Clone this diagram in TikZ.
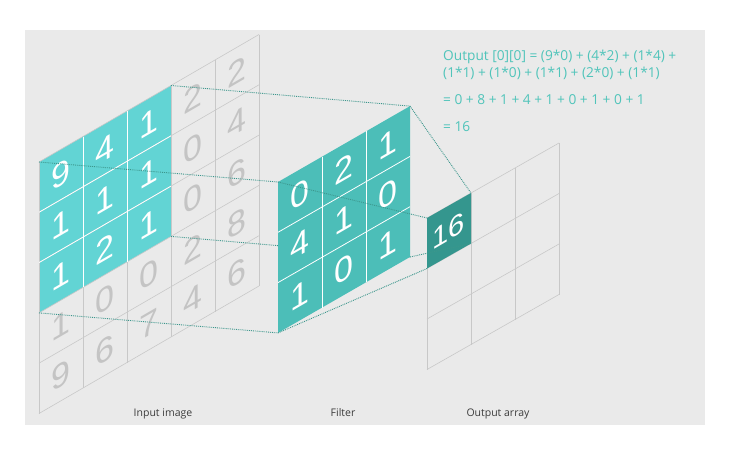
\documentclass[tikz,border=0pt]{standalone}
\usepackage{fontspec}
\setmainfont{Open Sans}
\newfontfamily\digitfont{Liberation Sans}
\definecolor{panel}{RGB}{234,234,234}
\definecolor{inteal}{RGB}{98,212,212}
\definecolor{filteal}{RGB}{76,190,184}
\definecolor{outteal}{RGB}{52,150,142}
\definecolor{txteal}{RGB}{80,196,186}
\definecolor{dotteal}{RGB}{60,150,140}
\definecolor{gridgray}{RGB}{200,200,200}
\definecolor{diggray}{RGB}{196,196,196}
\definecolor{lblgray}{RGB}{60,60,60}
\tikzset{
  gridline/.style={draw=gridgray, line width=0.6pt},
  whiteline/.style={draw=white, line width=0.8pt},
  dig/.style={font=\digitfont\fontsize{34}{34}\selectfont, yslant=0.58, transform shape, inner sep=0pt},
  dotline/.style={draw=dotteal, densely dotted, line width=0.9pt},
  eqtext/.style={font=\fontsize{13.7}{14}\selectfont, text=txteal, anchor=base west, inner sep=0pt},
  lbl/.style={font=\fontsize{10.5}{12}\selectfont, text=lblgray, anchor=base, inner sep=0pt}
}
\begin{document}
\begin{tikzpicture}
\useasboundingbox (0,0) rectangle (732pt,-448pt);
\fill[panel] (25pt,-30pt) rectangle (705pt,-425pt);
% input image
\begin{scope}[shift={(39pt,-162pt)}, x={(44pt,25.5pt)}, y={(0pt,-50.3pt)}]
  \fill[inteal] (0,0) -- (3,0) -- (3,3) -- (0,3) -- cycle;
  \foreach \i in {0,...,5} {\draw[gridline] (\i,0) -- (\i,5); \draw[gridline] (0,\i) -- (5,\i);}
  \foreach \i in {1,2} {\draw[whiteline] (\i,0) -- (\i,3); \draw[whiteline] (0,\i) -- (3,\i);}
  \foreach \c/\r/\v in {0/0/9,1/0/4,2/0/1,0/1/1,1/1/1,2/1/1,0/2/1,1/2/2,2/2/1}
    \node[dig, text=white] at (\c+0.5,\r+0.5) {\v};
  \foreach \c/\r/\v in {3/0/2,4/0/2,3/1/0,4/1/4,3/2/0,4/2/6,0/3/1,1/3/0,2/3/0,3/3/2,4/3/8,0/4/9,1/4/6,2/4/7,3/4/4,4/4/6}
    \node[dig, text=diggray] at (\c+0.5,\r+0.5) {\v};
  \coordinate (itl) at (0,0); \coordinate (itr) at (3,0);
  \coordinate (ibl) at (0,3); \coordinate (ibr) at (3,3);
\end{scope}
\begin{scope}[shift={(278pt,-182pt)}, x={(44pt,25.3pt)}, y={(0pt,-50.3pt)}]
  \coordinate (ftl) at (0,0); \coordinate (ftr) at (3,0);
  \coordinate (fbl) at (0,3); \coordinate (fbr) at (3,3);
\end{scope}
\begin{scope}[shift={(427pt,-218pt)}, x={(44pt,25pt)}, y={(0pt,-50.5pt)}]
  \coordinate (otl) at (0,0); \coordinate (otr) at (1,0);
  \coordinate (obl) at (0,1); \coordinate (obr) at (1,1);
\end{scope}
\draw[dotline] (itl) -- (ftl);
\draw[dotline] (itr) -- (ftr);
\draw[dotline] (ibl) -- (fbl);
\draw[dotline] (ibr) -- (fbr);
% filter
\begin{scope}[shift={(278pt,-182pt)}, x={(44pt,25.3pt)}, y={(0pt,-50.3pt)}]
  \fill[filteal] (0,0) -- (3,0) -- (3,3) -- (0,3) -- cycle;
  \foreach \i in {1,2} {\draw[whiteline] (\i,0) -- (\i,3); \draw[whiteline] (0,\i) -- (3,\i);}
  \foreach \c/\r/\v in {0/0/0,1/0/2,2/0/1,0/1/4,1/1/1,2/1/0,0/2/1,1/2/0,2/2/1}
    \node[dig, text=white] at (\c+0.5,\r+0.5) {\v};
\end{scope}
% output
\begin{scope}[shift={(427pt,-218pt)}, x={(44pt,25pt)}, y={(0pt,-50.5pt)}]
  \foreach \i in {0,...,3} {\draw[gridline] (\i,0) -- (\i,3); \draw[gridline] (0,\i) -- (3,\i);}
  \fill[outteal] (0,0) -- (1,0) -- (1,1) -- (0,1) -- cycle;
  \node[dig, text=white, font=\digitfont\fontsize{29}{29}\selectfont] at (0.5,0.5) {16};
\end{scope}
\draw[dotline] (ftl) -- (otl);
\draw[dotline] (ftr) -- (otr);
\draw[dotline] (fbl) -- (obl);
\draw[dotline] (fbr) -- (obr);
% equations
\node[eqtext] (e1) at (443pt,-60pt) {Output [0][0] = (9*0) + (4*2) + (1*4) +};
\node[eqtext] (e2) at (443pt,-77pt) {(1*1) + (1*0) + (1*1) + (2*0) + (1*1)};
\node[eqtext] (e3) at (443pt,-104pt) {= 0 + 8 + 1 + 4 + 1 + 0 + 1 + 0 + 1};
\node[eqtext] (e4) at (443pt,-131pt) {= 16};
% labels
\node[lbl] (l1) at (163pt,-416pt) {Input image};
\node[lbl] (l2) at (343pt,-416pt) {Filter};
\node[lbl] (l3) at (498pt,-416pt) {Output array};
\end{tikzpicture}
\end{document}
